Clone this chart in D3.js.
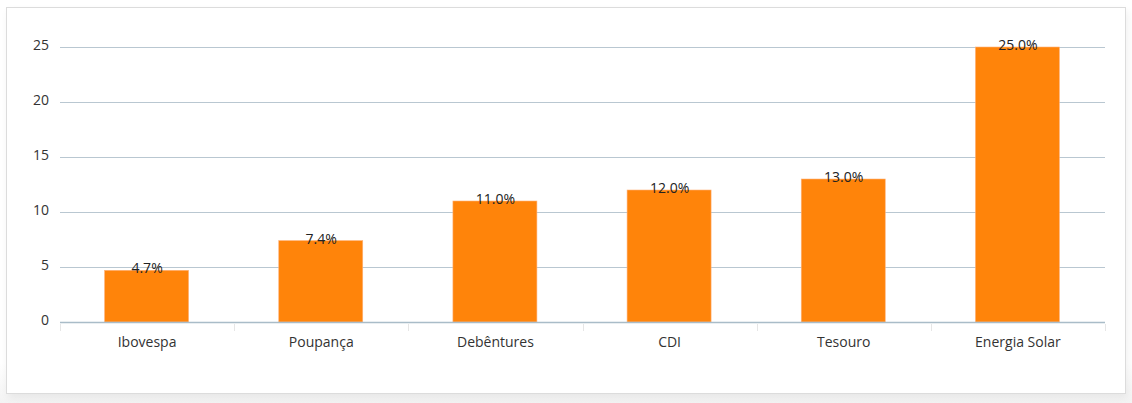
<!DOCTYPE html>
<html><head><meta charset="utf-8">
<script src="https://cdn.jsdelivr.net/npm/d3@7"></script>
<style>
html,body{margin:0;padding:0;background:#fff;}
body{width:1132px;height:403px;overflow:hidden;position:relative;font-family:"Open Sans",sans-serif;}
#bg{position:absolute;left:0;top:0;width:1132px;height:403px;background:linear-gradient(#fff 0%,#fff 90%,#f3f3f3 100%);}
#card{position:absolute;left:6px;top:7px;width:1118px;height:385px;border:1px solid #dcdcdc;background:#fff;box-shadow:2px 4px 8px rgba(0,0,0,0.06);}
svg{position:absolute;left:0;top:0;}
</style></head>
<body><div id="bg"></div><div id="card"></div><svg id="chart" width="1132" height="403"></svg>
<script>
const categories = ["Ibovespa","Poupança","Debêntures","CDI","Tesouro","Energia Solar"];
const values = [4.7, 7.4, 11.0, 12.0, 13.0, 25.0];
const yTicks = [0,5,10,15,20,25];

(function(){
const svg = d3.select("#chart");
const pL = 60, pR = 1105, pT = 47, pB = 322;
const x = d3.scaleBand().domain(categories).range([pL,pR]).paddingInner(0).paddingOuter(0);
const y = d3.scaleLinear().domain([0,25]).range([pB,pT]);
const barW = 84;

// gridlines
svg.append("g").selectAll("line").data(yTicks.filter(d=>d>0)).join("line")
  .attr("x1",pL).attr("x2",pR)
  .attr("y1",d=>Math.round(y(d))+0.5).attr("y2",d=>Math.round(y(d))+0.5)
  .attr("stroke","#b9c7d1").attr("stroke-width",1);

// y labels
svg.append("g").selectAll("text").data(yTicks).join("text")
  .attr("x",49).attr("y",d=>y(d)+3)
  .attr("text-anchor","end").attr("font-size","14px").attr("fill","#333")
  .text(d=>d);

// bars
svg.append("g").selectAll("rect").data(values).join("rect")
  .attr("x",(d,i)=>x(categories[i])+x.bandwidth()/2-barW/2-0.5)
  .attr("y",d=>y(d)).attr("width",barW).attr("height",d=>pB-y(d))
  .attr("fill","#ff840a").attr("stroke","#ffb27a").attr("stroke-width",0.6);

// x axis line
svg.append("line").attr("x1",pL).attr("x2",pR).attr("y1",pB+0.5).attr("y2",pB+0.5)
  .attr("stroke","#a9bcc8").attr("stroke-width",1.5);
// category boundary ticks
const bounds = categories.map(c=>x(c)).concat([pR]);
svg.append("g").selectAll("line").data(bounds).join("line")
  .attr("x1",d=>Math.round(d)+0.5).attr("x2",d=>Math.round(d)+0.5)
  .attr("y1",pB+2).attr("y2",pB+9)
  .attr("stroke","#e6e6e6").attr("stroke-width",1);
// category labels
svg.append("g").selectAll("text").data(categories).join("text")
  .attr("x",d=>x(d)+x.bandwidth()/2).attr("y",347)
  .attr("text-anchor","middle").attr("font-size","14px").attr("fill","#333")
  .text(d=>d);

// data labels
svg.append("g").selectAll("text").data(values).join("text")
  .attr("x",(d,i)=>x(categories[i])+x.bandwidth()/2).attr("y",d=>y(d)+3)
  .attr("text-anchor","middle").attr("font-size","14px").attr("fill","#222")
  .text(d=>d.toFixed(1)+"%");
})();
</script></body></html>
